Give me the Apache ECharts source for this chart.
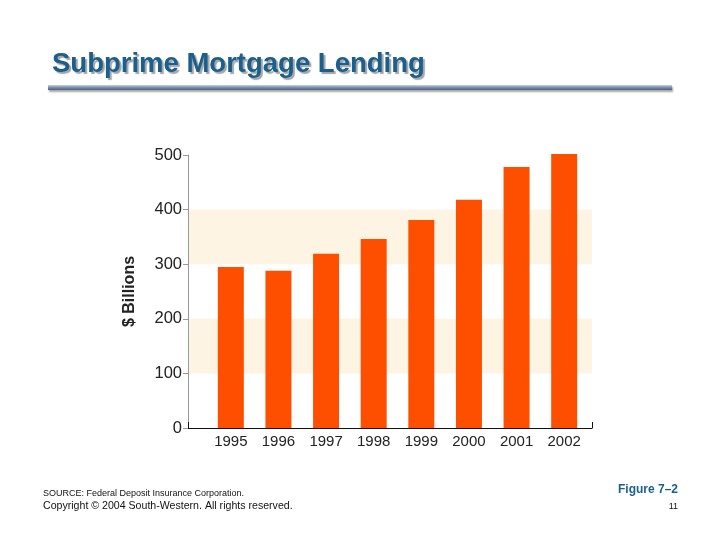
<!DOCTYPE html>
<html><head><meta charset="utf-8">
<script src="https://cdn.jsdelivr.net/npm/echarts@6/dist/echarts.min.js"></script>
<style>html,body{margin:0;padding:0;background:#fff}#c{width:720px;height:540px}</style>
</head><body><div id="c"></div>
<script>
const years = ['1995','1996','1997','1998','1999','2000','2001','2002'];
const lending = [295, 288, 319, 346, 381, 418, 478, 502];
const yTicks = {min: 0, max: 500, interval: 100};

const chart = echarts.init(document.getElementById('c'));
const font = 'Liberation Sans, Arial, Helvetica, sans-serif';
chart.setOption({
  backgroundColor: '#fff',
  animation: false,
  title: {
    text: 'Subprime Mortgage Lending',
    left: 47, top: 45,
    textStyle: {fontFamily: font, fontSize: 27.5, fontWeight: 'bold', color: '#1a5f8e',
      textShadowColor: 'rgba(90,90,90,0.55)', textShadowOffsetX: 2, textShadowOffsetY: 2, textShadowBlur: 1}
  },
  grid: [
    {left: 188, width: 404, top: 155, height: 273},
    {left: 207, width: 381, top: 155, height: 273}
  ],
  xAxis: [
    {gridIndex: 0, type: 'value', min: 0, max: 1, interval: 1,
     axisLine: {show: true, lineStyle: {color: '#111', width: 1.2}},
     axisTick: {show: true, inside: true, length: 6, lineStyle: {color: '#111'}},
     axisLabel: {show: false}, splitLine: {show: false}},
    {gridIndex: 1, type: 'category', data: years,
     axisLine: {show: false}, axisTick: {show: false},
     axisLabel: {margin: 6, fontFamily: font, fontSize: 15, color: '#222'}}
  ],
  yAxis: [
    {gridIndex: 0, type: 'value', min: yTicks.min, max: yTicks.max, interval: yTicks.interval,
     name: '$ Billions', nameLocation: 'middle', nameGap: 50, nameRotate: 90,
     nameTextStyle: {fontFamily: font, fontSize: 16, fontWeight: 'bold', color: '#222'},
     axisLine: {show: true, lineStyle: {color: '#999'}},
     axisTick: {show: true, length: 5, lineStyle: {color: '#999'}},
     axisLabel: {margin: 6, fontFamily: font, fontSize: 16.5, color: '#222'},
     splitLine: {show: false},
     splitArea: {show: true, areaStyle: {color: ['rgba(255,255,255,0)', '#fdf4e3']}}},
    {gridIndex: 1, type: 'value', min: yTicks.min, max: yTicks.max, interval: yTicks.interval, show: false}
  ],
  series: [{
    type: 'bar', xAxisIndex: 1, yAxisIndex: 1, data: lending, clip: false,
    barWidth: 26, itemStyle: {color: '#fe4f00'}
  }],
  graphic: [
    {type: 'rect', shape: {x: 48, y: 85, width: 624, height: 5},
     style: {fill: new echarts.graphic.LinearGradient(0, 0, 0, 1, [
       {offset: 0, color: '#c9d3e2'}, {offset: 0.45, color: '#7f93b0'}, {offset: 1, color: '#4d5f7c'}]),
       shadowColor: 'rgba(0,0,0,0.35)', shadowOffsetX: 1, shadowOffsetY: 2, shadowBlur: 2}},
    {type: 'text', left: 43, top: 489, style: {text: 'SOURCE: Federal Deposit Insurance Corporation.', font: '9px ' + font, fill: '#111'}},
    {type: 'text', left: 43, top: 501, style: {text: 'Copyright \u00a9 2004 South-Western. All rights reserved.', font: '10.6px ' + font, fill: '#111'}},
    {type: 'text', right: 42, top: 484, style: {text: 'Figure 7\u20132', font: 'bold 12px ' + font, fill: '#1a5f8e'}},
    {type: 'text', right: 42, top: 502, style: {text: '11', font: '9px ' + font, fill: '#111'}}
  ]
});
</script></body></html>
